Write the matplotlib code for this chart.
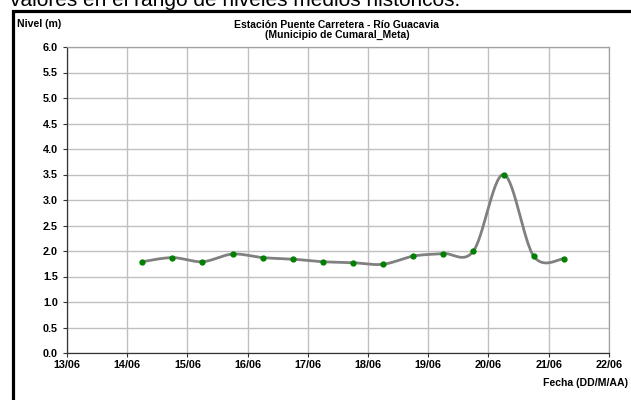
import numpy as np
import pandas as pd
import matplotlib
matplotlib.use("Agg")
import matplotlib.pyplot as plt
import matplotlib.dates as mdates
from matplotlib.patches import Rectangle

plt.rcParams['font.family'] = ['Liberation Sans', 'DejaVu Sans']

# Datos (nivel en metros, cada 12 horas)
fechas = ['2013-06-14 06:00', '2013-06-14 18:00', '2013-06-15 06:00', '2013-06-15 18:00',
          '2013-06-16 06:00', '2013-06-16 18:00', '2013-06-17 06:00', '2013-06-17 18:00',
          '2013-06-18 06:00', '2013-06-18 18:00', '2013-06-19 06:00', '2013-06-19 18:00',
          '2013-06-20 06:00', '2013-06-20 18:00', '2013-06-21 06:00']
nivel = [1.79, 1.87, 1.79, 1.94, 1.87, 1.84, 1.79, 1.77, 1.74, 1.90, 1.95, 2.00, 3.50, 1.90, 1.85]

titulo = 'Estación Puente Carretera - Río Guacavia\n(Municipio de Cumaral_Meta)'
texto_doc = 'valores en el rango de niveles medios históricos.'


def suavizar(x, y, n=30):
    """Curva suavizada tipo Excel (Bezier con puntos de control Catmull-Rom)."""
    x = np.asarray(x, float)
    y = np.asarray(y, float)
    px = np.concatenate([[x[0]], x, [x[-1]]])
    py = np.concatenate([[y[0]], y, [y[-1]]])
    xs, ys = [], []
    t = np.linspace(0, 1, n)
    for i in range(1, len(px) - 2):
        p0 = np.array([px[i], py[i]])
        p3 = np.array([px[i + 1], py[i + 1]])
        c1 = p0 + (np.array([px[i + 1], py[i + 1]]) - np.array([px[i - 1], py[i - 1]])) / 6
        c2 = p3 - (np.array([px[i + 2], py[i + 2]]) - np.array([px[i], py[i]])) / 6
        pts = ((1 - t) ** 3)[:, None] * p0 + (3 * (1 - t) ** 2 * t)[:, None] * c1 \
            + (3 * (1 - t) * t ** 2)[:, None] * c2 + (t ** 3)[:, None] * p3
        xs.extend(pts[:, 0])
        ys.extend(pts[:, 1])
    return np.array(xs), np.array(ys)


x = mdates.date2num(pd.to_datetime(fechas))
xs, ys = suavizar(x, nivel)

fig = plt.figure(figsize=(6.31, 4.0), dpi=100)
ax = fig.add_axes([0.1062, 0.1175, 0.8588, 0.765])

ax.plot(xs, ys, color='#808080', linewidth=2.0, zorder=3)
ax.plot(x, nivel, 'o', color='#008000', markersize=3.5, zorder=4)

x0 = mdates.date2num(pd.Timestamp('2013-06-13'))
x1 = mdates.date2num(pd.Timestamp('2013-06-22'))
ax.set_xlim(x0, x1)
ax.set_ylim(0, 6)
ax.xaxis.set_major_locator(mdates.DayLocator())
ax.xaxis.set_major_formatter(mdates.DateFormatter('%d/%m'))
ax.set_yticks(np.arange(0, 6.01, 0.5))
ax.yaxis.set_major_formatter(plt.FormatStrFormatter('%.1f'))
ax.grid(True, color='#c0c0c0', linewidth=1.0)
ax.set_axisbelow(True)

for lab in ax.get_xticklabels() + ax.get_yticklabels():
    lab.set_fontweight('bold')
    lab.set_fontsize(7.8)
ax.tick_params(axis='both', direction='out', length=3, width=0.8, color='#333333')
ax.tick_params(axis='y', pad=3.5)
ax.tick_params(axis='x', pad=2)

for s in ['left', 'bottom']:
    ax.spines[s].set_color('#333333')
    ax.spines[s].set_linewidth(0.9)
for s in ['top', 'right']:
    ax.spines[s].set_color('#a0a0a0')
    ax.spines[s].set_linewidth(0.9)

fig.text(0.534, 0.925, titulo, ha='center', va='center', fontsize=7.5, fontweight='bold',
         linespacing=1.05)
fig.text(0.027, 0.94, 'Nivel (m)', ha='left', va='center', fontsize=7.6, fontweight='bold')
fig.text(0.995, 0.043, 'Fecha (DD/M/AA)', ha='right', va='center', fontsize=7.6, fontweight='bold')

# marco negro del grafico y texto del documento cortado arriba
fig.patches.append(Rectangle((12.5 / 631, -0.05), 1.1, (400 - 10.5) / 400 + 0.05,
                             transform=fig.transFigure, fill=False, edgecolor='black',
                             linewidth=2.3))
fig.text(0.016, (400 - 6.5) / 400, texto_doc, ha='left', va='baseline', fontsize=15)

fig.savefig('out.png', dpi=100)
